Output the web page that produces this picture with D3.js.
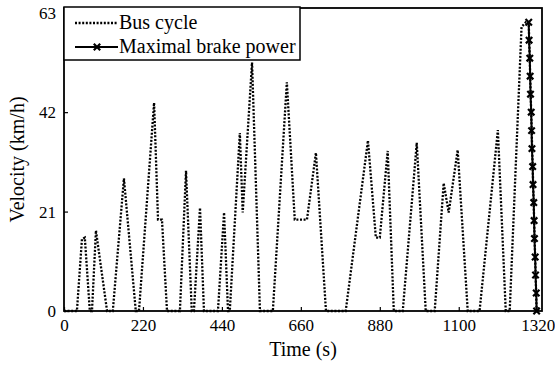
<!DOCTYPE html>
<html>
<head>
<meta charset="utf-8">
<script src="https://cdn.jsdelivr.net/npm/d3@7"></script>
<style>
  body { margin: 0; background: #fff; }
  text { font-family: "Liberation Serif", "Times New Roman", serif; fill: #000; }
</style>
</head>
<body>
<svg id="chart" width="555" height="370"></svg>
<script>
// bus cycle (s, km/h)
var busTime = [0, 36, 50, 58, 72, 78, 89, 120, 136, 167, 200, 209, 251, 262, 273, 287,
  323, 340, 356, 362, 379, 390, 429, 446, 457, 462, 490, 498, 524, 546, 582, 621, 643,
  677, 702, 730, 785, 847, 869, 880, 902, 919, 944, 983, 1008, 1033, 1058, 1072, 1097,
  1125, 1158, 1209, 1231, 1242, 1275, 1287, 1295, 1317, 1320];
var busVel = [0, 0, 15.2, 15.5, 0, 0, 17, 0, 0, 28, 0, 0, 44, 19.3, 19.3, 0,
  0, 29.6, 0, 0, 21.8, 0, 0, 20.8, 0, 0, 37.6, 20.8, 52.5, 0, 0, 48.3, 19.3,
  19.3, 33.4, 0, 0, 36, 15.5, 15.5, 33.8, 0, 0, 35.5, 0, 0, 27, 20.8, 34,
  0, 0, 38.2, 0, 0, 60, 61, 61, 0, 0];

// maximal brake power segment (markers)
var brakeTime = [1295, 1296, 1298, 1299, 1300, 1302, 1303, 1304, 1306, 1307, 1309,
  1310, 1311, 1313, 1314, 1316, 1317];
var brakeVel = [61, 57.2, 53.4, 49.6, 45.8, 42, 38.1, 34.3, 30.5, 26.7, 22.9,
  19.1, 15.3, 11.4, 7.6, 3.8, 0];

var xTicks = [0, 220, 440, 660, 880, 1100, 1320];
var yTicks = [0, 21, 42, 63];
var legendLabels = ["Bus cycle", "Maximal brake power"];

var svg = d3.select("#chart");
var mLeft = 64, mRight = 542, mTop = 8, mBottom = 311;

var x = d3.scaleLinear().domain([0, 1332]).range([mLeft, mRight]);
var y = d3.scaleLinear().domain([0, 64]).range([mBottom, mTop]);

var busData = busTime.map(function (t, i) { return { t: t, v: busVel[i] }; });
var brakeData = brakeTime.map(function (t, i) { return { t: t, v: brakeVel[i] }; });

var line = d3.line()
  .x(function (d) { return x(d.t); })
  .y(function (d) { return y(d.v); });

svg.append("path")
  .datum(busData)
  .attr("d", line)
  .attr("fill", "none")
  .attr("stroke", "#000")
  .attr("stroke-width", 2.3)
  .attr("stroke-dasharray", "2,1.6");

svg.append("path")
  .datum(brakeData)
  .attr("d", line)
  .attr("fill", "none")
  .attr("stroke", "#000")
  .attr("stroke-width", 2);

function xMark(g, cx, cy, s) {
  g.append("path")
    .attr("d", "M" + (cx - s) + "," + (cy - s) + "L" + (cx + s) + "," + (cy + s) +
      "M" + (cx - s) + "," + (cy + s) + "L" + (cx + s) + "," + (cy - s))
    .attr("stroke", "#000")
    .attr("stroke-width", 2.2)
    .attr("fill", "none");
}

var marks = svg.append("g");
brakeData.forEach(function (d) { xMark(marks, x(d.t), y(d.v), 3.2); });

// axes, ticks inside like matlab
var xAxis = d3.axisBottom(x).tickValues(xTicks).tickFormat(d3.format("d"))
  .tickSizeInner(-4).tickSizeOuter(0).tickPadding(8);
var yAxis = d3.axisLeft(y).tickValues(yTicks).tickFormat(d3.format("d"))
  .tickSizeInner(-4).tickSizeOuter(0).tickPadding(8);

var gx = svg.append("g").attr("transform", "translate(0," + mBottom + ")").call(xAxis);
var gy = svg.append("g").attr("transform", "translate(" + mLeft + ",0)").call(yAxis);

gx.select(".domain").remove();
gy.select(".domain").remove();
gx.selectAll("line").attr("stroke", "#000").attr("stroke-width", 1.2);
gy.selectAll("line").attr("stroke", "#000").attr("stroke-width", 1.2);
gx.selectAll("text").style("font-size", "17px").style("font-family", "Liberation Serif");
gy.selectAll("text").style("font-size", "17px").style("font-family", "Liberation Serif");

svg.append("rect")
  .attr("x", mLeft).attr("y", mTop)
  .attr("width", mRight - mLeft).attr("height", mBottom - mTop)
  .attr("fill", "none").attr("stroke", "#000").attr("stroke-width", 1.8);

svg.append("text")
  .attr("x", (mLeft + mRight) / 2).attr("y", 356)
  .attr("text-anchor", "middle")
  .style("font-size", "20px")
  .text("Time (s)");

svg.append("text")
  .attr("transform", "translate(24," + ((mTop + mBottom) / 2) + ") rotate(-90)")
  .attr("text-anchor", "middle")
  .style("font-size", "20px")
  .text("Velocity (km/h)");

// legend
var lg = svg.append("g");
lg.append("rect")
  .attr("x", mLeft).attr("y", 7)
  .attr("width", 236).attr("height", 53)
  .attr("fill", "#fff").attr("stroke", "#000").attr("stroke-width", 1.5);

lg.append("line")
  .attr("x1", 75).attr("x2", 118).attr("y1", 23).attr("y2", 23)
  .attr("stroke", "#000").attr("stroke-width", 2.3).attr("stroke-dasharray", "2,1.6");
lg.append("line")
  .attr("x1", 75).attr("x2", 118).attr("y1", 47).attr("y2", 47)
  .attr("stroke", "#000").attr("stroke-width", 2);
xMark(lg, 97, 47, 3.2);

lg.selectAll("text.leg")
  .data(legendLabels)
  .join("text")
  .attr("class", "leg")
  .attr("x", 119)
  .attr("y", function (d, i) { return 29 + i * 24; })
  .style("font-size", "20px")
  .text(function (d) { return d; });
</script>
</body>
</html>
